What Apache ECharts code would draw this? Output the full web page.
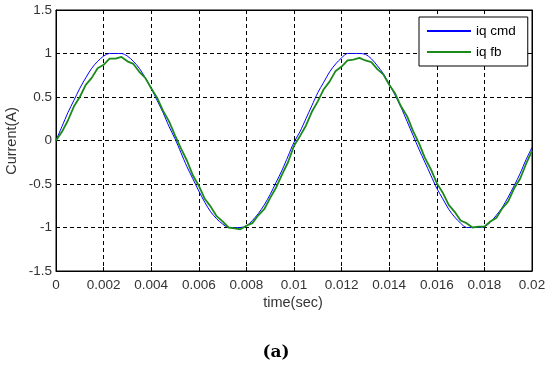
<!DOCTYPE html>
<html>
<head>
<meta charset="utf-8">
<script src="https://cdn.jsdelivr.net/npm/echarts@6/dist/echarts.min.js"></script>
<style>html,body{margin:0;padding:0;background:#fff;}#c{width:550px;height:370px;}</style>
</head>
<body>
<div id="c"></div>
<script>
var timeSec = [
  0, 0.00025, 0.0005, 0.00075, 0.001, 0.00125, 0.0015, 0.00175, 0.002, 0.00225,
  0.0025, 0.00275, 0.003, 0.00325, 0.0035, 0.00375, 0.004, 0.00425, 0.0045, 0.00475,
  0.005, 0.00525, 0.0055, 0.00575, 0.006, 0.00625, 0.0065, 0.00675, 0.007, 0.00725,
  0.0075, 0.00775, 0.008, 0.00825, 0.0085, 0.00875, 0.009, 0.00925, 0.0095, 0.00975,
  0.01, 0.01025, 0.0105, 0.01075, 0.011, 0.01125, 0.0115, 0.01175, 0.012, 0.01225,
  0.0125, 0.01275, 0.013, 0.01325, 0.0135, 0.01375, 0.014, 0.01425, 0.0145, 0.01475,
  0.015, 0.01525, 0.0155, 0.01575, 0.016, 0.01625, 0.0165, 0.01675, 0.017, 0.01725,
  0.0175, 0.01775, 0.018, 0.01825, 0.0185, 0.01875, 0.019, 0.01925, 0.0195, 0.01975,
  0.02
];
var iqCmd = [
  0, 0.16, 0.32, 0.46, 0.60, 0.72, 0.83, 0.91, 0.97, 1.0,
  1.0, 1.0, 0.97, 0.91, 0.83, 0.72, 0.60, 0.46, 0.32, 0.16,
  0.02, -0.14, -0.30, -0.44, -0.58, -0.71, -0.82, -0.90, -0.96, -1.0,
  -1.0, -1.0, -0.98, -0.92, -0.84, -0.74, -0.62, -0.48, -0.34, -0.18,
  -0.02, 0.10, 0.25, 0.40, 0.55, 0.67, 0.79, 0.88, 0.95, 1.0,
  1.0, 1.0, 0.99, 0.94, 0.86, 0.77, 0.65, 0.52, 0.38, 0.22,
  0.06, -0.10, -0.25, -0.40, -0.55, -0.67, -0.79, -0.88, -0.95, -1.0,
  -1.0, -1.0, -0.99, -0.94, -0.86, -0.77, -0.65, -0.52, -0.38, -0.22,
  -0.08
];
var iqFb = [
  0, 0.10, 0.23, 0.39, 0.50, 0.64, 0.72, 0.83, 0.87, 0.94,
  0.94, 0.96, 0.91, 0.88, 0.79, 0.72, 0.60, 0.49, 0.34, 0.22,
  0.06, -0.09, -0.23, -0.40, -0.52, -0.67, -0.76, -0.87, -0.93, -1.00,
  -1.01, -1.02, -0.98, -0.95, -0.86, -0.79, -0.66, -0.54, -0.39, -0.25,
  -0.06, 0.05, 0.17, 0.33, 0.45, 0.59, 0.68, 0.80, 0.85, 0.92,
  0.93, 0.95, 0.92, 0.90, 0.82, 0.76, 0.64, 0.54, 0.39, 0.28,
  0.11, -0.03, -0.20, -0.33, -0.49, -0.60, -0.74, -0.82, -0.92, -0.95,
  -1.00, -0.99, -0.99, -0.93, -0.89, -0.78, -0.70, -0.55, -0.44, -0.27,
  -0.12
];
var xTickLabels = ['0', '0.002', '0.004', '0.006', '0.008', '0.01', '0.012', '0.014', '0.016', '0.018', '0.02'];
var yTickLabels = ['-1.5', '-1', '-0.5', '0', '0.5', '1', '1.5'];
var seriesNames = ['iq cmd', 'iq fb'];

function pairs(xs, ys) { return xs.map(function (x, i) { return [x, ys[i]]; }); }

var chart = echarts.init(document.getElementById('c'), null, { renderer: 'canvas' });
var font = 'Liberation Sans, Arial, sans-serif';
var labelColor = '#333';
var gridLine = { show: true, lineStyle: { color: '#000', type: [4, 3], width: 1 } };
var axisLine = { show: true, onZero: false, lineStyle: { color: '#000' } };
var axisTick = { show: true, inside: true, length: 4, lineStyle: { color: '#000' } };

chart.setOption({
  backgroundColor: '#fff',
  animation: false,
  grid: { left: 56, right: 18, top: 10, bottom: 99, show: true, borderColor: '#000', borderWidth: 1, backgroundColor: 'transparent' },
  legend: {
    data: seriesNames,
    orient: 'vertical',
    left: 419, top: 17,
    padding: [7, 12, 7, 8],
    itemGap: 7,
    itemWidth: 44, itemHeight: 2,
    icon: 'rect',
    backgroundColor: '#fff',
    borderColor: '#000', borderWidth: 1,
    textStyle: { fontFamily: font, fontSize: 13.5, color: '#000' }
  },
  xAxis: [{
    type: 'value', min: 0, max: 0.02, interval: 0.002,
    axisLine: axisLine, axisTick: axisTick,
    axisLabel: { margin: 7, fontFamily: font, fontSize: 13.5, color: labelColor,
      formatter: function (v) { var i = Math.round(v / 0.002); return xTickLabels[i]; } },
    splitLine: gridLine
  }, {
    type: 'value', min: 0, max: 0.02, interval: 0.002, position: 'top',
    axisLine: axisLine, axisTick: axisTick,
    axisLabel: { show: false }, splitLine: { show: false }
  }],
  yAxis: [{
    type: 'value', min: -1.5, max: 1.5, interval: 0.5,
    axisLine: axisLine, axisTick: axisTick,
    axisLabel: { margin: 4, fontFamily: font, fontSize: 13.5, color: labelColor,
      formatter: function (v) { var i = Math.round((v + 1.5) / 0.5); return yTickLabels[i]; } },
    splitLine: gridLine
  }, {
    type: 'value', min: -1.5, max: 1.5, interval: 0.5, position: 'right',
    axisLine: axisLine, axisTick: axisTick,
    axisLabel: { show: false }, splitLine: { show: false }
  }],
  series: [{
    name: seriesNames[0], type: 'line', data: pairs(timeSec, iqCmd),
    showSymbol: false, smooth: 0.3, color: '#0000ff',
    lineStyle: { color: '#0000ff', width: 1 }
  }, {
    name: seriesNames[1], type: 'line', data: pairs(timeSec, iqFb),
    showSymbol: false, smooth: false, color: '#1a8a1a',
    lineStyle: { color: '#1a8a1a', width: 1.8 }
  }],
  graphic: [{
    type: 'text', x: 293, y: 303,
    style: { text: 'time(sec)', fontFamily: font, fontSize: 14.5, fill: labelColor, align: 'center', verticalAlign: 'middle' }
  }, {
    type: 'text', x: 12, y: 141, rotation: Math.PI / 2,
    style: { text: 'Current(A)', fontFamily: font, fontSize: 14.5, fill: labelColor, align: 'center', verticalAlign: 'middle' }
  }, {
    type: 'text', x: 276, y: 353,
    style: { text: '(a)', fontFamily: 'DejaVu Serif, Liberation Serif, serif', fontWeight: 'bold', fontSize: 17, fill: '#000', align: 'center', verticalAlign: 'middle' }
  }]
});
</script>
</body>
</html>
